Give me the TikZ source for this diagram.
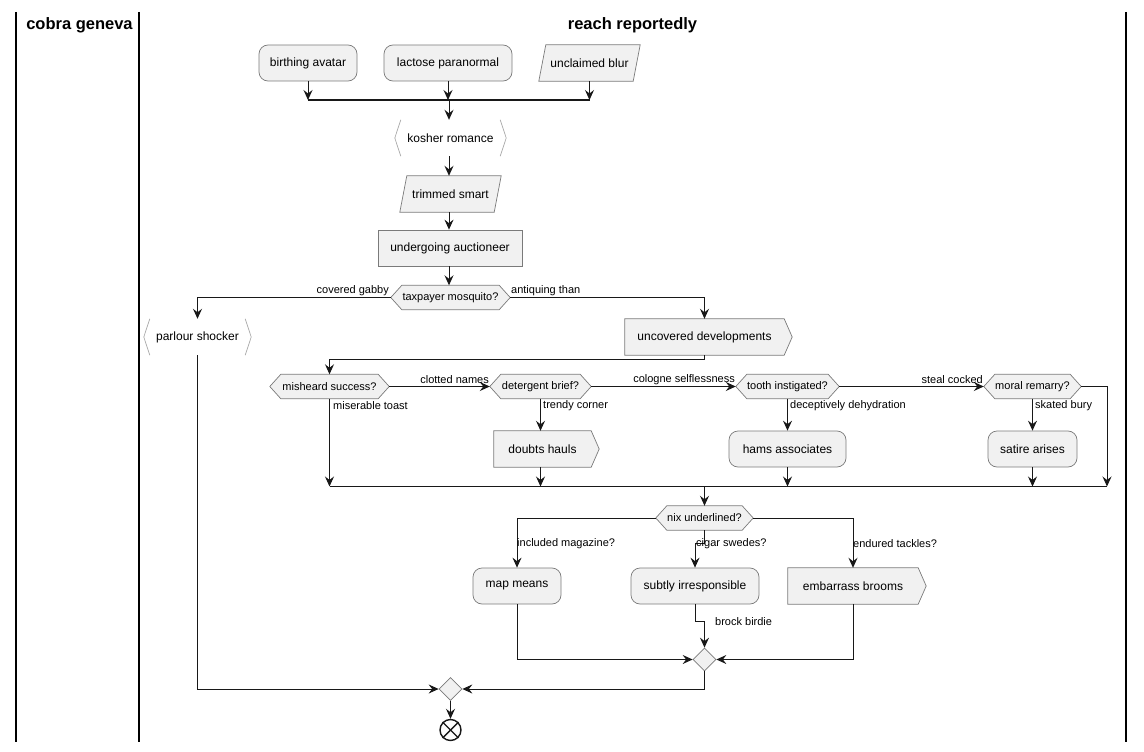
\documentclass[tikz,border=0pt]{standalone}
\usepackage{fontspec}
\setmainfont{Liberation Sans}
\usetikzlibrary{arrows.meta,shapes.geometric,backgrounds,calc}

\definecolor{boxfill}{HTML}{F1F1F1}
\definecolor{boxline}{HTML}{7A7A7A}
\definecolor{brackline}{HTML}{A8A8A8}
\definecolor{wire}{HTML}{181818}

\newcommand\fsz[1]{\fontsize{#1}{#1}\selectfont}

\tikzset{
  wirestyle/.style={draw=wire, line width=1pt},
  arr/.style={wirestyle, -{Stealth[length=10pt,width=9pt,inset=3.5pt]}},
  barline/.style={draw=wire, line width=1.8pt},
  lanerule/.style={draw=black, line width=1.4pt},
  lanetitle/.style={font=\bfseries\fsz{16.5}},
  outline/.style={draw=boxline, fill=boxfill, line width=0.7pt},
  basebox/.style={inner sep=0pt, minimum height=36pt, font=\fsz{12}},
  rbox/.style={basebox, outline, rounded corners=9pt},
  sqbox/.style={basebox, outline},
  plainbox/.style={basebox},
  hexbox/.style={inner sep=0pt, minimum height=24pt, font=\fsz{11}},
  mergediamond/.style={diamond, outline, inner sep=0pt, minimum width=23pt, minimum height=23pt},
  elabel/.style={inner sep=0pt, font=\fsz{11}},
}

% outlines drawn behind a named node
\newcommand\hexoutline[1]{%
  \begin{scope}[on background layer]
    \path[outline] (#1.west) -- ([xshift=11pt]#1.north west) -- ([xshift=-11pt]#1.north east)
      -- (#1.east) -- ([xshift=-11pt]#1.south east) -- ([xshift=11pt]#1.south west) -- cycle;
  \end{scope}}
\newcommand\paraoutline[1]{%
  \begin{scope}[on background layer]
    \path[outline] ([xshift=7pt]#1.north west) -- (#1.north east)
      -- ([xshift=-7pt]#1.south east) -- (#1.south west) -- cycle;
  \end{scope}}
\newcommand\flagoutline[1]{%
  \begin{scope}[on background layer]
    \path[outline] (#1.north west) -- (#1.north east) -- ([xshift=8pt]#1.east)
      -- (#1.south east) -- (#1.south west) -- cycle;
  \end{scope}}
\newcommand\brackoutline[1]{%
  \draw[brackline, line width=0.7pt] ([xshift=6pt]#1.north west) -- (#1.west) -- ([xshift=6pt]#1.south west);
  \draw[brackline, line width=0.7pt] ([xshift=-6pt]#1.north east) -- (#1.east) -- ([xshift=-6pt]#1.south east);}

\begin{document}
\begin{tikzpicture}[x=1pt, y=-1pt]
\useasboundingbox (0,0) rectangle (1144,752);

% swimlanes
\draw[lanerule] (16,12) -- (16,742);
\draw[lanerule] (139,12) -- (139,742);
\draw[lanerule] (1126,12) -- (1126,742);
\node[lanetitle] (laneA) at (79.5,25) {cobra geneva};
\node[lanetitle] (laneB) at (632.5,25) {reach reportedly};

% starting activities
\node[rbox, minimum width=98pt] (birth) at (308,63) {birthing avatar};
\node[rbox, minimum width=128pt] (lact) at (448,63) {lactose paranormal};
\node[plainbox, minimum width=101pt] (uncl) at (589.5,63) {unclaimed blur};
\paraoutline{uncl}

\coordinate (barA) at (449,100);
\draw[barline] (birth.south |- barA) -- (uncl.south |- barA);
\draw[arr] (birth.south) -- (birth.south |- barA);
\draw[arr] (lact.south) -- (lact.south |- barA);
\draw[arr] (uncl.south) -- (uncl.south |- barA);

\node[plainbox, minimum width=111pt] (kosher) at (450.5,138) {kosher romance};
\brackoutline{kosher}
\draw[arr] (barA) -- (barA |- kosher.north);

\node[plainbox, minimum width=101pt] (trim) at (450.5,194) {trimmed smart};
\paraoutline{trim}
\draw[arr] (kosher.south -| barA) -- (trim.north -| barA);

\node[sqbox, minimum width=144pt] (under) at (450,248) {undergoing auctioneer};
\draw[arr] (trim.south -| barA) -- (under.north -| barA);

\node[hexbox, minimum width=119pt] (tax) at (450.5,297.5) {taxpayer mosquito?};
\hexoutline{tax}
\draw[arr] (under.south -| barA) -- (tax.north -| barA);

% first split
\node[plainbox, minimum width=107pt] (parlour) at (197.5,337) {parlour shocker};
\brackoutline{parlour}
\node[plainbox, minimum width=159pt, font=\fsz{12}] (uncov) at (704.5,337) {uncovered developments};
\flagoutline{uncov}
\draw[arr] (tax.west) -| (parlour.north);
\draw[arr] (tax.east) -| (uncov.north);
\node[elabel, anchor=east] (lcg) at (389,291) {covered gabby};
\node[elabel, anchor=west] (lat) at (511,291) {antiquing than};

% chain of checks
\node[hexbox, minimum width=119pt] (mis) at (329.5,386.5) {misheard success?};
\hexoutline{mis}
\node[hexbox, minimum width=101pt] (det) at (540.5,386.5) {detergent brief?};
\hexoutline{det}
\node[hexbox, minimum width=103pt] (tooth) at (787.5,386.5) {tooth instigated?};
\hexoutline{tooth}
\node[hexbox, minimum width=97pt] (moral) at (1032.5,386.5) {moral remarry?};
\hexoutline{moral}

\coordinate (jogA) at (704.5,359);
\draw[arr] (uncov.south) -- (jogA) -| (mis.north);

\draw[arr] (mis.east) -- (det.west);
\draw[arr] (det.east) -- (tooth.west);
\draw[arr] (tooth.east) -- (moral.west);
\node[elabel, anchor=east] (lcn) at (489,380) {clotted names};
\node[elabel, anchor=east] (lcs) at (735,380) {cologne selflessness};
\node[elabel, anchor=east] (lsc) at (983,380) {steal cocked};

\node[plainbox, minimum width=97pt] (doubts) at (542.5,449) {doubts hauls};
\flagoutline{doubts}
\node[rbox, minimum width=117pt] (hams) at (787.5,449) {hams associates};
\node[rbox, minimum width=89pt] (satire) at (1032.5,449) {satire arises};

\draw[arr] (det.south) -- (det.south |- doubts.north);
\draw[arr] (tooth.south) -- (hams.north);
\draw[arr] (moral.south) -- (satire.north);
\node[elabel, anchor=west] (lmt) at (333,406) {miserable toast};
\node[elabel, anchor=west] (ltc) at (543,406) {trendy corner};
\node[elabel, anchor=west] (ldd) at (790,406) {deceptively dehydration};
\node[elabel, anchor=west] (lsb) at (1035,406) {skated bury};

% merge of the chain
\coordinate (mergeL) at (329.5,486.5);
\coordinate (mergeR) at (1107,486.5);
\coordinate (mergeC) at (704.5,486.5);
\draw[wirestyle] (mergeL) -- (mergeR);
\draw[arr] (mis.south) -- (mergeL);
\draw[arr] (det.south |- doubts.south) -- (det.south |- mergeL);
\draw[arr] (hams.south) -- (hams.south |- mergeL);
\draw[arr] (satire.south) -- (satire.south |- mergeL);
\draw[arr] (moral.east) -| (mergeR);

% second split
\node[hexbox, minimum width=97pt] (nix) at (704.5,518) {nix underlined?};
\hexoutline{nix}
\draw[arr] (mergeC) -- (nix.north);

\node[rbox, minimum width=88pt] (mapm) at (517,586) {map means};
\node[rbox, minimum width=128pt] (subtly) at (695,586) {subtly irresponsible};
\node[plainbox, minimum width=130pt] (embar) at (853,586) {embarrass brooms};
\flagoutline{embar}

\coordinate (jogB) at (704.5,543);
\draw[arr] (nix.west) -| (mapm.north);
\draw[arr] (nix.south) -- (jogB) -| (subtly.north);
\draw[arr] (nix.east) -| (embar.north);
\node[elabel, anchor=west] (lim) at (517,544) {included magazine?};
\node[elabel, anchor=west] (lcsw) at (696,544) {cigar swedes?};
\node[elabel, anchor=west] (let) at (853,544) {endured tackles?};

% joins
\node[mergediamond] (m1) at (704.5,659.5) {};
\coordinate (jogC) at (695,621);
\draw[arr] (mapm.south) |- (m1.west);
\draw[arr] (subtly.south) -- (jogC) -| (m1.north);
\draw[arr] (embar.south) |- (m1.east);
\node[elabel, anchor=west] (lbb) at (715,622) {brock birdie};

\node[mergediamond] (m2) at (450.5,689) {};
\coordinate (jogD) at (704.5,689);
\draw[arr] (m1.south) -- (jogD) -- (m2.east);
\draw[arr] (parlour.south) |- (m2.west);

% final node
\node[circle, draw=wire, fill=white, line width=1.4pt, minimum size=21pt, inner sep=0pt] (endn) at (450.5,730) {};
\draw[wire, line width=1.4pt] (endn.45) -- (endn.225);
\draw[wire, line width=1.4pt] (endn.135) -- (endn.315);
\draw[arr] (m2.south) -- (endn.north);
\end{tikzpicture}
\end{document}
